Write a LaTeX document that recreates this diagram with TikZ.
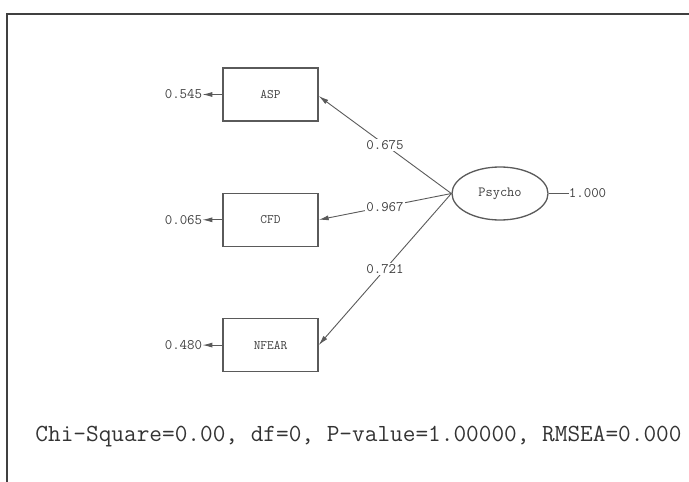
\documentclass[tikz,border=0pt]{standalone}
\usepackage{fontspec}
\usetikzlibrary{positioning}
\usetikzlibrary{shapes.geometric, arrows.meta}
\definecolor{pathgray}{HTML}{5A5A5A}
\definecolor{txtgray}{HTML}{404040}

\begin{document}
\begin{tikzpicture}[
  x=1pt, y=-1pt,
  node distance=71pt,
  block/.style={rectangle, draw=pathgray, line width=1.3pt, minimum width=95pt, minimum height=53pt, align=center, font=\ttfamily\fontsize{13}{13}\selectfont, text=txtgray},
  latent/.style={ellipse, draw=pathgray, line width=1.3pt, minimum width=96pt, minimum height=53pt, font=\ttfamily\fontsize{14}{14}\selectfont, text=txtgray},
  val/.style={inner sep=0pt, font=\ttfamily\fontsize{14.5}{14.5}\selectfont, text=txtgray},
  load/.style={midway, fill=white, inner sep=1.5pt, font=\ttfamily\fontsize{14.5}{14.5}\selectfont, text=txtgray},
  arrow/.style={-{Latex[length=10pt, width=5pt]}, draw=pathgray, line width=0.9pt}
]
  \useasboundingbox (0,0) rectangle (689,482);
  % frame
  \draw[line width=2pt, draw=black!75] (7,482) -- (7,14) -- (689,14);

  \node[block] (asp) at (270.5,94.5) {ASP};
  \node[block, below=of asp] (cfd) {CFD};
  \node[block, below=of cfd] (nfear) {NFEAR};
  \node[latent] (psy) at (500,193.5) {Psycho};

  \node[val, left=20pt of asp] (easp) {0.545};
  \node[val, left=20pt of cfd] (ecfd) {0.065};
  \node[val, left=20pt of nfear] (enfear) {0.480};
  \node[val, right=20pt of psy] (epsy) {1.000};

  \draw[arrow] (asp) -- (easp);
  \draw[arrow] (cfd) -- (ecfd);
  \draw[arrow] (nfear) -- (enfear);
  \draw[draw=pathgray, line width=0.9pt] (psy) -- (epsy);

  \draw[arrow] (psy.west) -- node[load] {0.675} (asp.east |- 0,96);
  \draw[arrow] (psy.west) -- node[load] {0.967} (cfd.east);
  \draw[arrow] (psy.west) -- node[load] {0.721} (nfear.east);

  \node[font=\ttfamily\fontsize{24.6}{24.6}\selectfont, text=black!80, inner sep=0pt] (fit) at (358.5,437) {Chi-Square=0.00, df=0, P-value=1.00000, RMSEA=0.000};
\end{tikzpicture}
\end{document}
